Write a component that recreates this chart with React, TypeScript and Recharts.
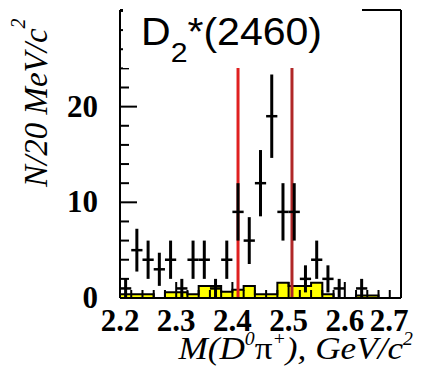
import {
  ComposedChart, Area, Scatter, ErrorBar, XAxis, YAxis, ReferenceLine,
} from 'recharts';

// 20 MeV bins from 2.2 to 2.7 GeV
const binEdges = [
  2.2, 2.22, 2.24, 2.26, 2.28, 2.3, 2.32, 2.34, 2.36, 2.38, 2.4, 2.42, 2.44,
  2.46, 2.48, 2.5, 2.52, 2.54, 2.56, 2.58, 2.6, 2.62, 2.64, 2.66, 2.68, 2.7,
];
const binCenters = [
  2.21, 2.23, 2.25, 2.27, 2.29, 2.31, 2.33, 2.35, 2.37, 2.39, 2.41, 2.43, 2.45,
  2.47, 2.49, 2.51, 2.53, 2.55, 2.57, 2.59, 2.61, 2.63, 2.65, 2.67, 2.69,
];
const counts = [1, 5, 4, 3, 4, 1, 4, 4, 1, 4, 9, 6, 12, 19, 9, 9, 2, 4, 2, 1, 0, 1, 0, 0, 0];
const background = [
  0.4, 0.4, 0.4, 0, 0.6, 0.6, 0.4, 1.25, 1.25, 0.65, 0.85, 1.25, 0.4,
  0.4, 1.6, 1.25, 1.25, 1.6, 0.4, 0, 0, 0.25, 0.25, 0, 0,
];

// signal window
const windowLo = 2.41;
const windowHi = 2.506;
const windowTop = 24.1;

const xTicks = [
  2.2, 2.22, 2.24, 2.26, 2.28, 2.3, 2.32, 2.34, 2.36, 2.38, 2.4, 2.42, 2.44,
  2.46, 2.48, 2.5, 2.52, 2.54, 2.56, 2.58, 2.6, 2.62, 2.64, 2.66, 2.68, 2.7,
];
const xLabels = ['2.2', '2.3', '2.4', '2.5', '2.6', '2.7'];
const yTicks = [0, 2, 4, 6, 8, 10, 12, 14, 16, 18, 20, 22, 24, 26, 28, 30];
const yLabels = [0, 10, 20];
const yMax = 30.1;

const histData = [
  ...binEdges.slice(0, -1).map((x, i) => ({ x, bg: background[i] })),
  { x: binEdges[binEdges.length - 1], bg: background[background.length - 1] },
];

const points = binCenters
  .map((x, i) => ({ x, n: counts[i], ey: Math.sqrt(counts[i]), ex: 0.01 }))
  .filter((p) => p.n > 0);

// window lines drawn as vertical error bars from 0 to windowTop
const loLine = [{ x: windowLo, mid: windowTop / 2, half: windowTop / 2 }];
const hiLine = [{ x: windowHi, mid: windowTop / 2, half: windowTop / 2 }];

const serif = '"Liberation Serif", "Times New Roman", serif';
const sans = '"Liberation Sans", Arial, sans-serif';

function XTick({ x, y, payload }: any) {
  const v = payload.value;
  const label = xLabels.find((l) => Math.abs(parseFloat(l) - v) < 1e-6);
  const len = label ? 16 : 8;
  // last label pulled inside the pad, as in the original
  const shift = label === '2.7' ? -12 : 0;
  return (
    <g>
      <line x1={x} y1={y} x2={x} y2={y - len} stroke="#000" strokeWidth={2} />
      {label && (
        <text x={x + shift} y={y + 33} textAnchor="middle" fontFamily={serif}
          fontWeight="bold" fontSize={31} fill="#000">
          {label}
        </text>
      )}
    </g>
  );
}

function YTick({ x, y, payload }: any) {
  const v = payload.value;
  const major = v % 10 === 0;
  return (
    <g>
      <line x1={x} y1={y} x2={x + (major ? 17 : 9)} y2={y} stroke="#000" strokeWidth={2} />
      {yLabels.includes(v) && (
        <text x={x - 22} y={y + 10} textAnchor="end" fontFamily={serif}
          fontWeight="bold" fontSize={31} fill="#000">
          {v}
        </text>
      )}
    </g>
  );
}

const noDot = () => <g />;

export default function App() {
  return (
    <div style={{ position: 'absolute', left: 0, top: 0, width: 421, height: 389, background: '#fff' }}>
      <ComposedChart width={421} height={389} data={histData}
        margin={{ top: 10, right: 20, bottom: 31, left: 20 }}>
        <XAxis dataKey="x" type="number" domain={[2.2, 2.7]} allowDataOverflow
          ticks={xTicks} interval={0} tickSize={0} tickMargin={0} height={60}
          tickLine={false} tick={<XTick />} axisLine={{ stroke: '#000', strokeWidth: 2 }} />
        <YAxis type="number" domain={[0, yMax]} allowDataOverflow
          ticks={yTicks} interval={0} tickSize={0} tickMargin={0} width={100}
          tickLine={false} tick={<YTick />} axisLine={{ stroke: '#000', strokeWidth: 2 }} />
        <Area type="stepAfter" dataKey="bg" fill="#ffff00" fillOpacity={1}
          stroke="#000" strokeWidth={2} dot={false} activeDot={false}
          isAnimationActive={false} />
        <ReferenceLine x={2.7} stroke="#000" strokeWidth={2} />
        <ReferenceLine y={yMax} stroke="#000" strokeWidth={2} />
        <Scatter data={loLine} dataKey="mid" shape={noDot} isAnimationActive={false}>
          <ErrorBar dataKey="half" direction="y" width={0} stroke="#e02020" strokeWidth={3} />
        </Scatter>
        <Scatter data={hiLine} dataKey="mid" shape={noDot} isAnimationActive={false}>
          <ErrorBar dataKey="half" direction="y" width={0} stroke="#b02828" strokeWidth={3} />
        </Scatter>
        <Scatter data={points} dataKey="n" shape={noDot} isAnimationActive={false}>
          <ErrorBar dataKey="ey" direction="y" width={0} stroke="#000" strokeWidth={3} />
          <ErrorBar dataKey="ex" direction="x" width={0} stroke="#000" strokeWidth={2.5} />
        </Scatter>
      </ComposedChart>
      <svg width={421} height={389} style={{ position: 'absolute', left: 0, top: 0, pointerEvents: 'none' }}>
        <rect x={123} y={0} width={239} height={68} fill="#fff" />
        <g transform="translate(141 45) scale(1.08 1)">
          <text x={0} y={0} fontFamily={sans} fontSize={38} fill="#000">
            D<tspan fontSize={28} dy={17}>2</tspan><tspan dy={-17}>*(2460)</tspan>
          </text>
        </g>
        <text x={47} y={187} transform="rotate(-90 47 187)" fontFamily={serif}
          fontStyle="italic" fontSize={33} fill="#000">
          N/20 MeV/c<tspan fontSize={20} dy={-22}>2</tspan>
        </text>
        <g transform="translate(413 359) scale(1.1 1)">
          <text x={0} y={0} textAnchor="end" fontFamily={serif}
            fontStyle="italic" fontSize={32} fill="#000">
            M(D<tspan fontSize={18} dy={-14}>0</tspan>
            <tspan dy={14} fontStyle="normal">π</tspan>
            <tspan fontSize={18} dy={-14}>+</tspan>
            <tspan dy={14}>), GeV/c</tspan>
            <tspan fontSize={18} dy={-14}>2</tspan>
          </text>
        </g>
      </svg>
    </div>
  );
}
